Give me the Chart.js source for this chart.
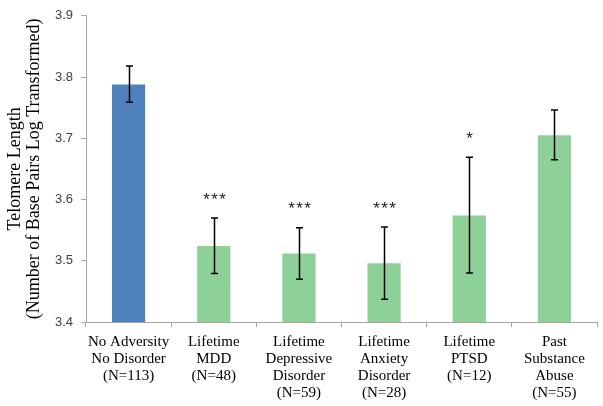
<!DOCTYPE html>
<html>
<head>
<meta charset="utf-8">
<script src="https://cdn.jsdelivr.net/npm/chart.js@4/dist/chart.umd.min.js"></script>
<style>
html,body{margin:0;padding:0;background:#fff;}
#wrap{width:603px;height:406px;}
</style>
</head>
<body>
<div id="wrap"><canvas id="chart"></canvas></div>
<script>
// data
const groups=[
["No Adversity","No Disorder","(N=113)"],
["Lifetime","MDD","(N=48)"],
["Lifetime","Depressive","Disorder","(N=59)"],
["Lifetime","Anxiety","Disorder","(N=28)"],
["Lifetime","PTSD","(N=12)"],
["Past","Substance","Abuse","(N=55)"]
];
const means=[3.788,3.524,3.512,3.496,3.574,3.705];
const errLow=[3.759,3.479,3.470,3.437,3.480,3.665];
const errHigh=[3.818,3.570,3.554,3.555,3.669,3.746];
const stars=["","***","***","***","*",""];
const yTicks=[3.4,3.5,3.6,3.7,3.8,3.9];

const blue="#4F81BD",green="#8DD198",axisGray="#A6A6A6";
const serif="'Liberation Serif','Times New Roman',serif";

const errorBars={
id:"errorBars",
afterDatasetsDraw(chart){
let ctx=chart.ctx,y=chart.scales.y,meta=chart.getDatasetMeta(0);
ctx.save();
ctx.strokeStyle="#000";ctx.lineWidth=1.5;
meta.data.forEach((bar,i)=>{
let x=Math.round(bar.x)+0.5;
let top=y.getPixelForValue(errHigh[i]),bot=y.getPixelForValue(errLow[i]);
ctx.beginPath();
ctx.moveTo(x,top);ctx.lineTo(x,bot);
ctx.moveTo(x-3.5,top);ctx.lineTo(x+3.5,top);
ctx.moveTo(x-3.5,bot);ctx.lineTo(x+3.5,bot);
ctx.stroke();
// significance stars above the error bar
if(stars[i]){
ctx.fillStyle="#222";
ctx.font="17px 'Liberation Sans',sans-serif";
ctx.textAlign="center";ctx.textBaseline="middle";
let n=stars[i].length;
for(let k=0;k<n;k++){
ctx.fillText("*",x+(k-(n-1)/2)*8,top-18);
}
}
});
ctx.restore();
}
};

new Chart(document.getElementById("chart"),{
type:"bar",
data:{
labels:groups,
datasets:[{
data:means,
backgroundColor:means.map((v,i)=>i===0?blue:green),
borderWidth:0,
categoryPercentage:1,
barPercentage:0.39
}]
},
options:{
responsive:true,
maintainAspectRatio:false,
animation:false,
layout:{padding:{top:12,right:6,left:0,bottom:0}},
plugins:{legend:{display:false},tooltip:{enabled:false}},
scales:{
x:{
grid:{display:true,drawOnChartArea:false,offset:true,tickLength:5,color:axisGray,lineWidth:1},
border:{color:axisGray,width:1},
ticks:{color:"#000",font:{family:serif,size:15,lineHeight:1.12},padding:7,maxRotation:0,autoSkip:false},
afterFit(s){s.height=84;}
},
y:{
min:3.4,max:3.9,
afterBuildTicks(s){s.ticks=yTicks.map(v=>({value:v}));},
grid:{display:true,drawOnChartArea:false,tickLength:5,color:axisGray,lineWidth:1},
border:{color:axisGray,width:1},
ticks:{color:"#404040",font:{family:"'Liberation Sans',Arial,sans-serif",size:13},padding:8,callback:v=>v.toFixed(1)},
title:{display:true,text:["Telomere Length","(Number of Base Pairs Log Transformed)"],color:"#000",
font:{family:serif,size:18,lineHeight:1.06},padding:{top:6,bottom:0}},
afterFit(s){s.width=86;}
}
}
},
plugins:[errorBars]
});
</script>
</body>
</html>
